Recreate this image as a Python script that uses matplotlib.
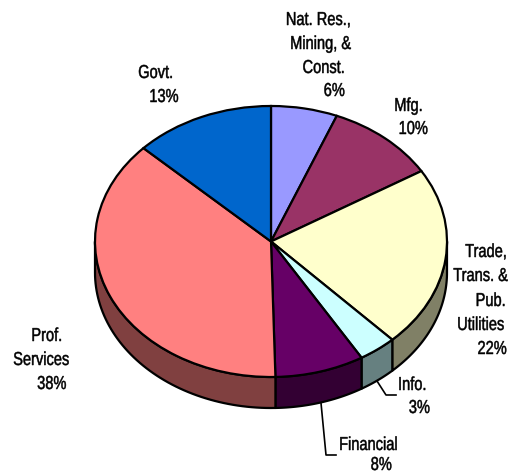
import numpy as np
import matplotlib
matplotlib.use('Agg')
from matplotlib import pyplot as plt
from matplotlib import patheffects as pe
from matplotlib.transforms import Affine2D

plt.rcParams['font.family'] = ['Liberation Sans', 'DejaVu Sans']

# Values in drawing order, clockwise from 12 o'clock
sectors = ['Nat. Res., Mining, & Const.', 'Mfg.', 'Trade, Trans. & Pub. Utilities',
           'Info.', 'Financial', 'Prof. Services', 'Govt.']
shares = [6.1, 10.2, 21.6, 3.5, 8.2, 37.5, 12.9]
top_colors = ['#9999FF', '#993366', '#FFFFCC', '#CCFFFF', '#660066', '#FF8080', '#0066CC']
side_colors = ['#4C4C80', '#4C1933', '#808066', '#668080', '#330033', '#804040', '#003366']

W, H = 509, 473
cx, cy, rx, ry = 271, 241.5, 176, 135.5
depth = 31 / ry


# No narrow font installed, so squeeze the glyphs sideways and thicken them a little
class Narrow(pe.AbstractPathEffect):
    def __init__(self, sx, anchor):
        super().__init__()
        self.sx = sx
        self.anchor = anchor

    def draw_path(self, renderer, gc, tpath, affine, rgbFace=None):
        ext = tpath.get_extents()
        x0 = ext.x1 if self.anchor == 'right' else ext.x0
        squeeze = Affine2D().translate(-x0, 0).scale(self.sx, 1).translate(x0, 0)
        gc0 = renderer.new_gc()
        gc0.copy_properties(gc)
        gc0.set_linewidth(0.35)
        gc0.set_foreground('black')
        renderer.draw_path(gc0, tpath, squeeze + affine, rgbFace)
        gc0.restore()


fig = plt.figure(figsize=(W / 100, H / 100), dpi=100)

# Pie axes stretched so the circle comes out as a tilted ellipse
ax = fig.add_axes([(cx - rx) / W, 1 - (cy + ry) / H, 2 * rx / W, 2 * ry / H])
ax.set_zorder(2)

# Side wall, only the front half (90..270 degrees clockwise from the top) is visible
edges = np.cumsum([0] + shares) / sum(shares) * 360
for i in range(len(shares)):
    a0, a1 = max(edges[i], 90), min(edges[i + 1], 270)
    if a1 <= a0:
        continue
    t = np.radians(np.linspace(a0, a1, 60))
    xs = np.sin(t)
    ys = np.cos(t)
    ax.fill(np.r_[xs, xs[::-1]], np.r_[ys, ys[::-1] - depth], facecolor=side_colors[i],
            edgecolor='black', linewidth=1.6, joinstyle='round', clip_on=False)

ax.pie(shares, colors=top_colors, startangle=90, counterclock=False, radius=1,
       wedgeprops={'edgecolor': 'black', 'linewidth': 1.6, 'clip_on': False})
ax.set_aspect('auto')
ax.set_xlim(-1, 1)
ax.set_ylim(-1, 1)
ax.axis('off')

# Overlay in pixel coordinates for labels and leader lines
ov = fig.add_axes([0, 0, 1, 1])
ov.set_xlim(0, W)
ov.set_ylim(H, 0)
ov.axis('off')
ov.set_zorder(3)
ov.patch.set_alpha(0)

label_lines = ['Nat. Res.,', 'Mining, &', 'Const.', '6%', 'Mfg.', '10%',
               'Trade,', 'Trans. &', 'Pub.', 'Utilities', '22%',
               'Info.', '3%', 'Financial', '8%',
               'Prof.', 'Services', '38%', 'Govt.', '13%']
label_x = [351, 351, 345, 345, 423, 428,
           507, 508, 506, 504, 507,
           427, 430, 398, 392,
           31, 13, 37, 138, 149]
label_y = [20.5, 44.5, 68.5, 91.5, 106.5, 129.5,
           252.5, 276.5, 301.5, 325.5, 349.5,
           385.5, 408.5, 445.5, 465.5,
           336.5, 360.5, 384.5, 73.5, 97.5]
label_ha = ['right'] * 15 + ['left'] * 5
for s, x, y, ha in zip(label_lines, label_x, label_y, label_ha):
    ov.text(x, y, s, ha=ha, va='center', fontsize=13.5, color='black',
            path_effects=[Narrow(0.78, ha)])

ov.plot([377, 386, 396], [381, 395, 395], color='black', lw=1.2)
ov.plot([321, 326, 336], [403, 455, 455], color='black', lw=1.2)

plt.savefig('out.png', dpi=100)
